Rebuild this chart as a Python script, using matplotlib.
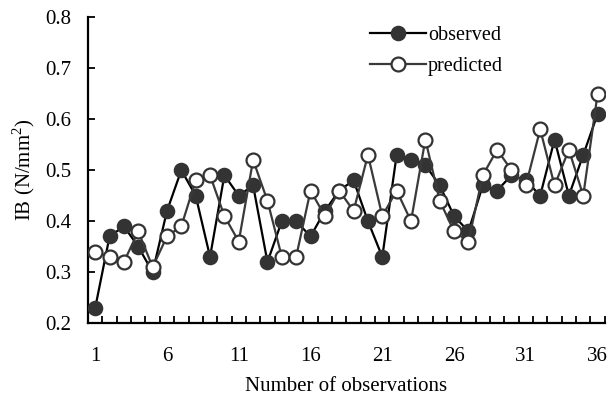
#!/usr/bin/env python3

# plot.py - observed vs predicted IB

import matplotlib
matplotlib.use("Agg")
import matplotlib.pyplot as plt
import numpy as np

observations = list(range(1, 37))
observed = [0.23, 0.37, 0.39, 0.35, 0.30, 0.42, 0.50, 0.45, 0.33, 0.49,
            0.45, 0.47, 0.32, 0.40, 0.40, 0.37, 0.42, 0.46, 0.48, 0.40,
            0.33, 0.53, 0.52, 0.51, 0.47, 0.41, 0.38, 0.47, 0.46, 0.49,
            0.48, 0.45, 0.56, 0.45, 0.53, 0.61]
predicted = [0.34, 0.33, 0.32, 0.38, 0.31, 0.37, 0.39, 0.48, 0.49, 0.41,
             0.36, 0.52, 0.44, 0.33, 0.33, 0.46, 0.41, 0.46, 0.42, 0.53,
             0.41, 0.46, 0.40, 0.56, 0.44, 0.38, 0.36, 0.49, 0.54, 0.50,
             0.47, 0.58, 0.47, 0.54, 0.45, 0.65]
x_labels = [1, 6, 11, 16, 21, 26, 31, 36]

plt.rcParams["font.family"] = ["Liberation Serif", "DejaVu Serif"]
plt.rcParams["mathtext.fontset"] = "custom"
plt.rcParams["mathtext.rm"] = "Liberation Serif"

FS = 15

fig = plt.figure(figsize=(6.13, 3.98), dpi=100, facecolor="white")
ax = fig.add_axes([0.1436, 0.188, 0.843, 0.769])

ax.plot(observations, observed, color="#000000", linewidth=1.6,
        marker="o", markersize=10, markerfacecolor="#333333",
        markeredgecolor="#333333", markeredgewidth=1.2, label="observed", zorder=3)
ax.plot(observations, predicted, color="#3a3a3a", linewidth=1.6,
        marker="o", markersize=10, markerfacecolor="white",
        markeredgecolor="#333333", markeredgewidth=1.6, label="predicted", zorder=4)

# Y-axis
ax.set_ylim(0.2, 0.8)
ax.set_yticks(np.arange(0.2, 0.81, 0.1))
ax.set_yticklabels([f"{v:.1f}" for v in np.arange(0.2, 0.81, 0.1)])
ax.set_ylabel("IB (N/mm$^2$)", fontsize=FS, labelpad=6)

# X-axis: ticks at category edges, labels at every 5th category
ax.set_xlim(0.5, 36.5)
ax.set_xticks(np.arange(0.5, 37, 1.0))
ax.set_xticklabels([])
ax.set_xticks(x_labels, minor=True)
ax.set_xticklabels([str(v) for v in x_labels], minor=True)
ax.tick_params(axis="x", which="major", direction="in", length=5, width=1.3)
ax.tick_params(axis="x", which="minor", length=0, pad=17, labelsize=FS)
ax.tick_params(axis="y", direction="in", length=5, width=1.3, labelsize=FS, pad=12)
ax.set_xlabel("Number of observations", fontsize=FS, labelpad=8)

for side in ["top", "right"]:
    ax.spines[side].set_visible(False)
for side in ["left", "bottom"]:
    ax.spines[side].set_linewidth(1.6)

ax.legend(loc="upper left", bbox_to_anchor=(0.51, 1.03), frameon=False,
          fontsize=14.5, handlelength=2.8, handletextpad=0.1, labelspacing=0.6)

fig.savefig("out.png", dpi=100)
